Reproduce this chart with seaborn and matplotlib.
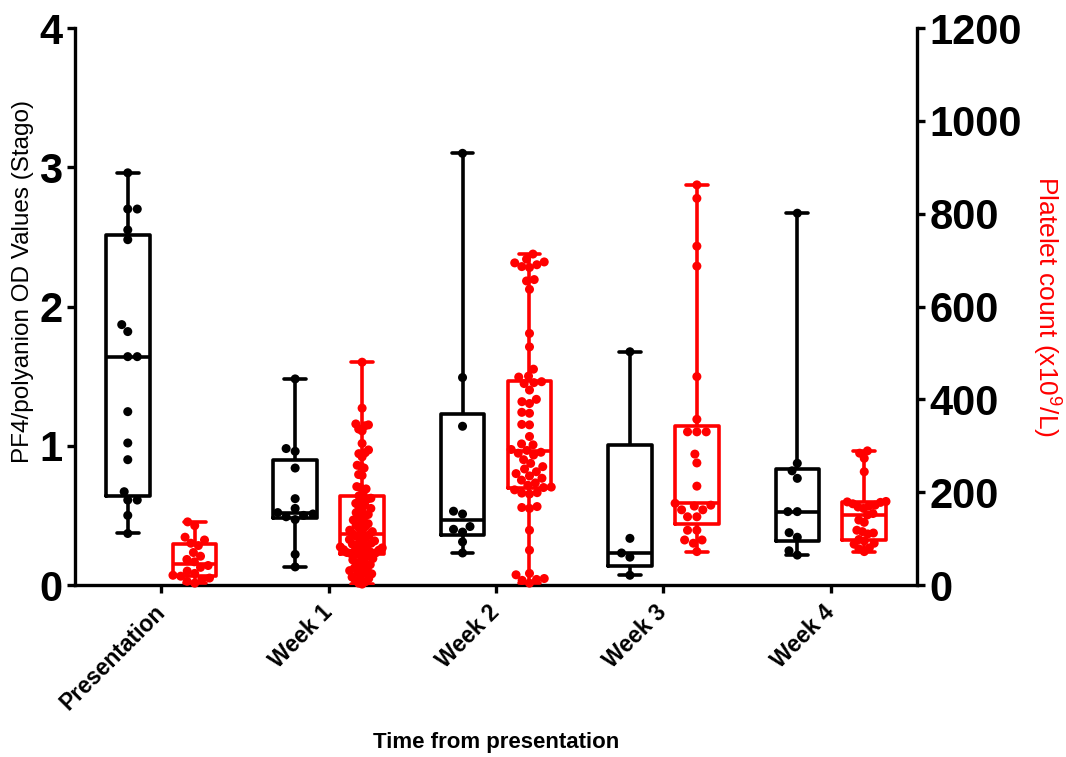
import numpy as np
import pandas as pd
import matplotlib
matplotlib.use("Agg")
import matplotlib.pyplot as plt
import seaborn as sns

# Time points on the x axis
times = ["Presentation", "Week 1", "Week 2", "Week 3", "Week 4"]

# PF4/polyanion OD values (left axis)
pf4_presentation = [2.96, 2.70, 2.70, 2.55, 2.48, 1.87, 1.82, 1.64, 1.64, 1.245,
                    1.02, 0.90, 0.67, 0.61, 0.61, 0.50, 0.37]
pf4_week1 = [1.48, 0.98, 0.96, 0.84, 0.62, 0.55, 0.52, 0.51, 0.50, 0.49, 0.47, 0.22, 0.13]
pf4_week2 = [3.10, 1.49, 1.14, 0.53, 0.51, 0.42, 0.40, 0.38, 0.31, 0.23]
pf4_week3 = [1.675, 0.335, 0.23, 0.20, 0.07]
pf4_week4 = [2.67, 0.874, 0.82, 0.766, 0.527, 0.527, 0.376, 0.343, 0.246, 0.215]

# Platelet counts x10^9/L (right axis)
plt_presentation = [136, 128, 103, 97, 90, 85, 70, 62, 55, 50, 42, 38, 30, 25, 21,
                    19, 15, 12, 8, 4]
plt_week1 = [480, 381, 347, 345, 343, 336, 332, 305, 291, 285, 283, 276, 258, 256, 252,
             238, 236, 212, 210, 207, 198, 192,
             187, 185, 180, 176, 172, 168, 165, 160, 156, 152, 148, 145, 140, 136, 132,
             128, 125, 122, 118, 115, 112, 110,
             108, 105, 102, 100, 98, 95, 92, 90, 88, 86, 84, 82, 80, 78, 76, 75, 73,
             72, 71, 70, 69, 68,
             66, 63, 60, 57, 54, 50, 47, 44, 40, 37, 34, 31, 28, 26, 24, 20, 17, 14,
             10, 7, 4, 2]
plt_week2 = [713, 702, 696, 694, 690, 686, 684, 658, 655, 637, 542, 513, 465, 450, 448,
             438, 436,
             434, 420, 400, 395, 391, 372, 370, 346, 345, 320, 304, 302, 292, 290, 286,
             284, 280, 270, 262, 255, 250, 244, 240, 235, 230, 226, 220, 215,
             211, 210, 205, 199, 198, 196, 169, 167, 165, 118, 75, 25, 22, 14, 12, 10, 4]
plt_week3 = [862, 833, 730, 687, 449, 357, 330, 330, 330, 282, 263, 213, 176, 172, 170,
             162, 162, 147, 147, 118, 118, 97, 97, 90, 72]
plt_week4 = [289, 284, 273, 244, 180, 179, 178, 175, 172, 170, 168, 165, 154, 151, 140,
             135, 118, 115, 112, 110, 98, 95, 90, 88, 80, 78, 72]

pf4_groups = [pf4_presentation, pf4_week1, pf4_week2, pf4_week3, pf4_week4]
plt_groups = [plt_presentation, plt_week1, plt_week2, plt_week3, plt_week4]

series = ["PF4", "Platelets"]
palette = {"PF4": "black", "Platelets": "#ff0000"}


def long_table(groups, name):
    rows = []
    for t, vals in zip(times, groups):
        for v in vals:
            rows.append((t, name, v))
    return pd.DataFrame(rows, columns=["time", "series", "value"])


def summary_table(groups, name):
    # GraphPad style quartiles (n+1 method) -> five number summary per group
    rows = []
    for t, vals in zip(times, groups):
        q = np.percentile(vals, [0, 25, 50, 75, 100], method="weibull")
        for v in q:
            rows.append((t, name, v))
    return pd.DataFrame(rows, columns=["time", "series", "value"])


pf4_df = long_table(pf4_groups, "PF4")
plt_df = long_table(plt_groups, "Platelets")
pf4_box = summary_table(pf4_groups, "PF4")
plt_box = summary_table(plt_groups, "Platelets")

sns.set_style("ticks")
plt.rcParams["font.family"] = ["Liberation Sans", "DejaVu Sans"]
plt.rcParams["axes.linewidth"] = 2.4
for key in ["text.color", "axes.labelcolor", "xtick.color", "ytick.color", "axes.edgecolor"]:
    plt.rcParams[key] = "black"

fig = plt.figure(figsize=(10.66, 7.57), dpi=100)
ax = fig.add_axes([0.0704, 0.2272, 0.7898, 0.7358])
ax2 = ax.twinx()

ax.set_ylim(0, 4)
ax2.set_ylim(0, 1200)

box_kw = dict(x="time", y="value", hue="series", order=times, hue_order=series,
              palette=palette, fill=False, whis=(0, 100), width=0.8, gap=0.35,
              dodge=True, linewidth=2.6, legend=False)
swarm_kw = dict(x="time", y="value", hue="series", order=times, hue_order=series,
                palette=palette, dodge=True, size=6.5, legend=False,
                warn_thresh=1.0)

sns.boxplot(data=pf4_box, ax=ax, **box_kw)
sns.swarmplot(data=pf4_df, ax=ax, **swarm_kw)
sns.boxplot(data=plt_box, ax=ax2, **box_kw)
sns.swarmplot(data=plt_df, ax=ax2, **swarm_kw)

ax.set_xlim(-0.515, 4.515)
ax.set_ylim(0, 4)
ax2.set_ylim(0, 1200)
ax.set_yticks([0, 1, 2, 3, 4])
ax2.set_yticks([0, 200, 400, 600, 800, 1000, 1200])

for a in (ax, ax2):
    a.spines["top"].set_visible(False)
ax.spines["right"].set_visible(False)
ax2.spines["left"].set_visible(False)
ax2.spines["bottom"].set_visible(False)
ax2.spines["right"].set_linewidth(2.4)

ax.tick_params(axis="y", length=6, width=2.4, labelsize=30, pad=3)
ax2.tick_params(axis="y", length=6, width=2.4, labelsize=30, pad=3)
ax.tick_params(axis="x", length=6, width=2.4, labelsize=16.5, pad=11)
for lab in ax.get_yticklabels() + ax2.get_yticklabels():
    lab.set_fontweight("bold")

ax.set_xticks(range(len(times)))
ax.set_xticklabels(times, rotation=45, ha="right", va="center",
                   rotation_mode="anchor", fontweight="bold")

ax.set_xlabel("Time from presentation", fontsize=16, fontweight="bold")
ax.xaxis.set_label_coords(0.5, -0.263)
ax.set_ylabel("PF4/polyanion OD Values (Stago)", fontsize=17.5, va="center")
ax.yaxis.set_label_coords(-0.062, 0.545)
ax2.set_ylabel("Platelet count (x10$^{\\mathregular{9}}$/L)", fontsize=19,
               color="#ff0000", rotation=270, va="center")
ax2.yaxis.set_label_coords(1.155, 0.5)

# squeeze the dense swarms so they stay close to their box, like the original
fig.canvas.draw()
for a, shift in ((ax, -0.2), (ax2, 0.2)):
    for c in a.collections:
        off = np.array(c.get_offsets(), dtype=float)
        if len(off) == 0:
            continue
        center = np.round(off[:, 0].mean() - shift) + shift
        dx = off[:, 0] - center
        m = np.abs(dx).max()
        if m > 0.13:
            off[:, 0] = center + dx * 0.13 / m
            c.set_offsets(off)
        if "draw" in c.__dict__:
            del c.draw
        c.set_clip_on(False)

fig.savefig("out.png", dpi=100)
